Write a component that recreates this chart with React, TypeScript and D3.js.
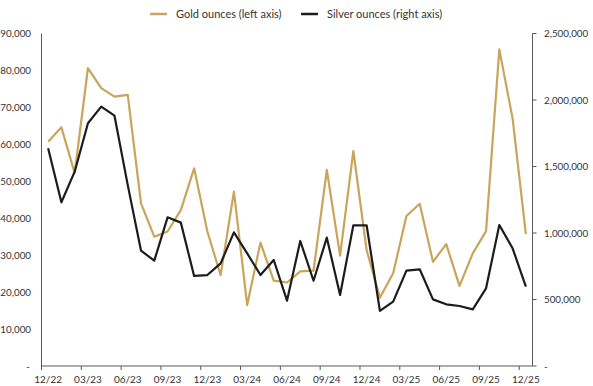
import * as d3 from 'd3';

const MONTHS = [
  '12/22', '01/23', '02/23', '03/23', '04/23', '05/23', '06/23', '07/23', '08/23', '09/23', '10/23', '11/23',
  '12/23', '01/24', '02/24', '03/24', '04/24', '05/24', '06/24', '07/24', '08/24', '09/24', '10/24', '11/24',
  '12/24', '01/25', '02/25', '03/25', '04/25', '05/25', '06/25', '07/25', '08/25', '09/25', '10/25', '11/25',
  '12/25',
];

const GOLD = [
  60700, 64600, 52200, 80600, 75200, 72900, 73400, 44000, 35000, 36400, 42200, 53500,
  36400, 24600, 47200, 16500, 33400, 23100, 22600, 25600, 25800, 53100, 29900, 58200,
  31400, 18500, 25100, 40600, 43900, 28200, 33000, 21700, 30500, 36500, 85700, 67000,
  35700,
];

const SILVER = [
  1637000, 1231000, 1461000, 1825000, 1950000, 1882000, 1360000, 867000, 792000, 1118000, 1078000, 677000,
  684000, 772000, 1005000, 847000, 684000, 797000, 491000, 940000, 641000, 965000, 534000, 1058000,
  1058000, 414000, 484000, 717000, 727000, 501000, 464000, 451000, 426000, 584000, 1060000, 885000,
  596000,
];

const LEFT_TICKS = [0, 10000, 20000, 30000, 40000, 50000, 60000, 70000, 80000, 90000];
const RIGHT_TICKS = [0, 500000, 1000000, 1500000, 2000000, 2500000];

const GOLD_COLOR = '#c8a55b';
const SILVER_COLOR = '#1c1c1c';
const AXIS_COLOR = '#595959';
const TEXT_COLOR = '#333333';
const FONT = 'Lato, "Liberation Sans", sans-serif';

const W = 593;
const H = 386;

const fmt = (v: number) => (v === 0 ? '-' : d3.format(',')(v));

export default function App() {
  const left = 41.5;
  const right = 532.5;
  const top = 33.5;
  const bottom = 366;

  const x = d3.scaleBand<string>().domain(MONTHS).range([left, right]).padding(0);
  const yL = d3.scaleLinear().domain([0, 90000]).range([bottom, top]);
  const yR = d3.scaleLinear().domain([0, 2500000]).range([bottom, top]);
  const cx = (m: string) => (x(m) ?? 0) + x.bandwidth() / 2;

  const goldLine = d3.line<number>().x((_, i) => cx(MONTHS[i])).y(d => yL(d));
  const silverLine = d3.line<number>().x((_, i) => cx(MONTHS[i])).y(d => yR(d));

  const labelled = MONTHS.filter((_, i) => i % 3 === 0);

  return (
    <svg width={W} height={H} style={{ position: 'absolute', left: 0, top: 0, fontFamily: FONT }}>
      <rect width={W} height={H} fill="white" />

      {/* Legend */}
      <g fontSize={11} fill={TEXT_COLOR}>
        <line x1={150} x2={167} y1={14} y2={14} stroke={GOLD_COLOR} strokeWidth={2.5} />
        <text x={176} y={18}>Gold ounces (left axis)</text>
        <line x1={301} x2={318} y1={14} y2={14} stroke={SILVER_COLOR} strokeWidth={2.5} />
        <text x={327} y={18}>Silver ounces (right axis)</text>
      </g>

      {/* Left axis */}
      <line x1={left} x2={left} y1={top} y2={bottom} stroke={AXIS_COLOR} strokeWidth={1} />
      {LEFT_TICKS.map(t => (
        <text key={t} x={t === 0 ? 30 : 31} y={yL(t) + 3.5} fontSize={9.8} fill={TEXT_COLOR} textAnchor="end">
          {fmt(t)}
        </text>
      ))}

      {/* Right axis */}
      <line x1={right} x2={right} y1={top} y2={bottom} stroke={AXIS_COLOR} strokeWidth={1} />
      {RIGHT_TICKS.map(t => (
        <g key={t}>
          <line x1={right} x2={right + 4} y1={yR(t)} y2={yR(t)} stroke={AXIS_COLOR} strokeWidth={1} />
          <text x={544} y={yR(t) + 3.5} fontSize={9.8} fill={TEXT_COLOR}>
            {fmt(t)}
          </text>
        </g>
      ))}

      {/* X axis */}
      <line x1={left} x2={right} y1={bottom} y2={bottom} stroke={AXIS_COLOR} strokeWidth={1} />
      {labelled.map(m => (
        <g key={m}>
          <line x1={x(m)} x2={x(m)} y1={bottom} y2={bottom + 4} stroke={AXIS_COLOR} strokeWidth={1} />
          <text x={cx(m)} y={383} fontSize={10} fill={TEXT_COLOR} textAnchor="middle">
            {m}
          </text>
        </g>
      ))}

      {/* Series */}
      <path d={goldLine(GOLD) ?? ''} fill="none" stroke={GOLD_COLOR} strokeWidth={2.2} strokeLinejoin="round" />
      <path d={silverLine(SILVER) ?? ''} fill="none" stroke={SILVER_COLOR} strokeWidth={2.2} strokeLinejoin="round" />
    </svg>
  );
}
